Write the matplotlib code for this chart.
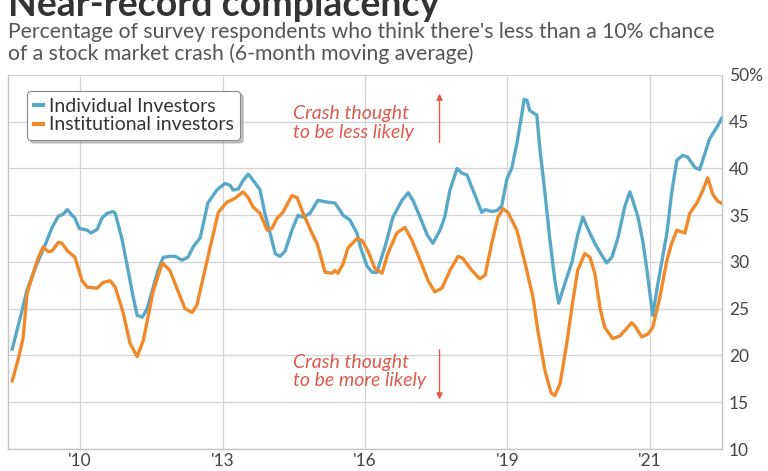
import matplotlib.pyplot as plt
from matplotlib.lines import Line2D

# Data (decimal years, %)
ind_years = [2008.57, 2008.74, 2008.88, 2009.09, 2009.26, 2009.41, 2009.54, 2009.64, 2009.73, 2009.83,
             2009.89, 2009.98, 2010.15, 2010.23, 2010.36, 2010.46, 2010.57, 2010.69, 2010.74, 2010.88,
             2011.01, 2011.12, 2011.20, 2011.31, 2011.41, 2011.54, 2011.64, 2011.75, 2011.89, 2012.00,
             2012.15, 2012.27, 2012.38, 2012.53, 2012.69, 2012.88, 2013.05, 2013.16, 2013.22, 2013.33,
             2013.43, 2013.54, 2013.68, 2013.79, 2013.89, 2014.00, 2014.11, 2014.21, 2014.32, 2014.46,
             2014.59, 2014.69, 2014.84, 2015.01, 2015.20, 2015.37, 2015.54, 2015.68, 2015.83, 2015.91,
             2016.04, 2016.15, 2016.25, 2016.42, 2016.59, 2016.78, 2016.91, 2017.01, 2017.16, 2017.31,
             2017.43, 2017.58, 2017.68, 2017.79, 2017.94, 2018.04, 2018.15, 2018.25, 2018.36, 2018.46,
             2018.53, 2018.67, 2018.78, 2018.88, 2018.99, 2019.09, 2019.20, 2019.31, 2019.35, 2019.41,
             2019.47, 2019.62, 2019.68, 2019.79, 2019.89, 2020.00, 2020.08, 2020.21, 2020.36, 2020.48,
             2020.59, 2020.69, 2020.84, 2020.99, 2021.09, 2021.20, 2021.33, 2021.47, 2021.58, 2021.64,
             2021.75, 2021.85, 2021.94, 2022.06, 2022.17, 2022.36, 2022.46, 2022.57, 2022.69, 2022.80,
             2022.95, 2023.05, 2023.16, 2023.26, 2023.41, 2023.52]
ind_vals = [20.7, 24.1, 27.0, 29.8, 31.8, 33.7, 34.9, 35.1, 35.6, 35.0,
            34.7, 33.6, 33.4, 33.1, 33.5, 34.7, 35.2, 35.4, 35.2, 32.5,
            29.1, 26.2, 24.3, 24.1, 25.0, 27.3, 29.1, 30.5, 30.6, 30.6,
            30.2, 30.5, 31.6, 32.6, 36.3, 37.7, 38.4, 38.2, 37.7, 37.8,
            38.7, 39.4, 38.5, 37.7, 35.2, 33.1, 30.9, 30.6, 31.2, 33.4,
            35.0, 34.8, 35.2, 36.6, 36.4, 36.3, 35.0, 34.5, 33.1, 31.5,
            29.6, 28.9, 28.9, 31.6, 34.8, 36.6, 37.4, 36.6, 34.8, 32.9,
            32.0, 33.4, 34.8, 37.7, 40.0, 39.5, 39.3, 38.0, 36.6, 35.3,
            35.6, 35.4, 35.5, 36.0, 38.9, 40.0, 42.7, 46.0, 47.4, 47.3,
            46.2, 45.7, 42.3, 37.4, 32.6, 28.0, 25.6, 27.7, 30.0, 32.9,
            34.8, 33.6, 32.0, 30.7, 29.9, 30.5, 32.6, 35.9, 37.5, 36.6,
            34.8, 32.3, 29.1, 24.3, 27.7, 33.1, 37.4, 40.9, 41.4, 41.2,
            40.1, 39.9, 41.6, 43.2, 44.4, 45.4]

inst_years = [2008.57, 2008.69, 2008.80, 2008.88, 2009.01, 2009.12, 2009.22, 2009.33, 2009.41, 2009.54,
              2009.62, 2009.73, 2009.89, 2010.04, 2010.15, 2010.36, 2010.48, 2010.63, 2010.74, 2010.91,
              2011.05, 2011.20, 2011.33, 2011.54, 2011.73, 2011.89, 2012.06, 2012.21, 2012.36, 2012.46,
              2012.59, 2012.74, 2012.91, 2013.09, 2013.26, 2013.43, 2013.54, 2013.64, 2013.79, 2013.94,
              2014.04, 2014.15, 2014.27, 2014.46, 2014.57, 2014.69, 2014.88, 2014.99, 2015.16, 2015.31,
              2015.37, 2015.43, 2015.54, 2015.64, 2015.83, 2015.94, 2016.06, 2016.21, 2016.36, 2016.48,
              2016.67, 2016.84, 2016.99, 2017.16, 2017.33, 2017.47, 2017.62, 2017.79, 2017.96, 2018.06,
              2018.25, 2018.42, 2018.53, 2018.67, 2018.80, 2018.91, 2019.01, 2019.20, 2019.37, 2019.54,
              2019.64, 2019.79, 2019.92, 2020.00, 2020.11, 2020.25, 2020.38, 2020.48, 2020.63, 2020.74,
              2020.84, 2020.95, 2021.05, 2021.22, 2021.37, 2021.62, 2021.68, 2021.83, 2021.96, 2022.06,
              2022.21, 2022.36, 2022.46, 2022.57, 2022.74, 2022.84, 2022.99, 2023.12, 2023.22, 2023.33,
              2023.43, 2023.54]
inst_vals = [17.3, 19.5, 21.9, 26.6, 28.8, 30.5, 31.6, 31.1, 31.2, 32.1,
             32.0, 31.2, 30.5, 28.0, 27.3, 27.2, 27.8, 28.0, 27.3, 24.5,
             21.3, 19.9, 21.6, 26.9, 29.9, 29.1, 26.9, 25.0, 24.6, 25.4,
             28.3, 31.6, 35.3, 36.4, 36.8, 37.5, 36.9, 35.9, 35.2, 33.4,
             33.6, 34.7, 35.3, 37.1, 36.9, 35.3, 33.1, 32.0, 28.9, 28.8,
             29.1, 28.8, 29.8, 31.5, 32.5, 32.3, 31.2, 29.3, 28.8, 30.9,
             33.1, 33.7, 32.3, 30.2, 28.0, 26.8, 27.2, 29.1, 30.6, 30.4,
             29.1, 28.2, 28.6, 32.0, 34.8, 35.7, 35.3, 33.4, 29.9, 26.2,
             22.7, 18.4, 16.0, 15.7, 17.0, 21.3, 25.9, 29.1, 30.9, 30.5,
             28.8, 25.1, 23.0, 21.8, 22.1, 23.5, 23.2, 22.0, 22.3, 23.0,
             26.2, 30.2, 32.0, 33.4, 33.1, 35.2, 36.3, 37.7, 39.0, 37.2,
             36.5, 36.2]

x_ticks = [2010, 2013, 2016, 2019, 2022]
x_labels = ["'10", "'13", "'16", "'19", "'21"]
y_ticks = [10, 15, 20, 25, 30, 35, 40, 45, 50]
y_labels = ["10", "15", "20", "25", "30", "35", "40", "45", "50%"]

blue = "#58a8c8"
orange = "#f0892a"
red = "#e05a4e"
grid_c = "#d3d3d3"

plt.rcParams["font.family"] = ["Lato", "DejaVu Sans"]

fig = plt.figure(figsize=(7.68, 4.71), dpi=100)
ax = fig.add_axes([0.0104, 0.0467, 0.9297, 0.7941])

ax.plot(ind_years, ind_vals, color=blue, lw=2.4, solid_joinstyle="round", zorder=3)
ax.plot(inst_years, inst_vals, color=orange, lw=2.4, solid_joinstyle="round", zorder=3)

ax.set_xlim(2008.48, 2023.52)
ax.set_ylim(10, 50)
ax.set_xticks(x_ticks)
ax.set_xticklabels(x_labels)
ax.set_yticks(y_ticks)
ax.set_yticklabels(y_labels)
ax.yaxis.tick_right()
ax.tick_params(axis="both", length=0, labelsize=12.5, labelcolor="#444444")
ax.tick_params(axis="y", pad=5)
ax.tick_params(axis="x", pad=3)
ax.grid(True, color=grid_c, lw=0.9)
ax.set_axisbelow(True)
for s in ["left", "right", "bottom"]:
    ax.spines[s].set_color("#c4c4c4")
    ax.spines[s].set_linewidth(1.0)
ax.spines["top"].set_visible(False)

# legend
handles = [Line2D([0], [0], color=blue, lw=3), Line2D([0], [0], color=orange, lw=3)]
leg = ax.legend(handles, ["Individual Investors", "Institutional investors"],
                loc="upper left", bbox_to_anchor=(0.027, 0.957), borderaxespad=0,
                handlelength=0.45, handletextpad=0.3, fontsize=14, labelspacing=0.08,
                frameon=True, fancybox=True, shadow={"color": "#999999", "alpha": 0.6},
                borderpad=0.35)
leg.get_frame().set_edgecolor("#888888")
leg.get_frame().set_linewidth(0.8)
for t in leg.get_texts():
    t.set_color("#333333")

# annotations
ax.text(2014.48, 44.9, "Crash thought\nto be less likely", color=red, fontsize=14,
        style="italic", ha="left", va="center", linespacing=1.12)
ax.annotate("", xy=(2017.57, 48.3), xytext=(2017.57, 42.5),
            arrowprops=dict(arrowstyle="-|>", color=red, lw=1.0, mutation_scale=9))
ax.text(2014.48, 18.3, "Crash thought\nto be more likely", color=red, fontsize=14,
        style="italic", ha="left", va="center", linespacing=1.12)
ax.annotate("", xy=(2017.57, 15.0), xytext=(2017.57, 20.9),
            arrowprops=dict(arrowstyle="-|>", color=red, lw=1.0, mutation_scale=9))

# title and subtitle
fig.text(0.010, 0.966, "Near-record complacency", fontsize=27, fontweight="bold",
         color="#333333", ha="left", va="baseline")
fig.text(0.010, 1 - 38 / 471, "Percentage of survey respondents who think there's less than a 10% chance",
         fontsize=15.2, color="#555555", ha="left", va="baseline")
fig.text(0.010, 1 - 60 / 471, "of a stock market crash (6-month moving average)",
         fontsize=15.2, color="#555555", ha="left", va="baseline")

fig.savefig("out.png", dpi=100)
